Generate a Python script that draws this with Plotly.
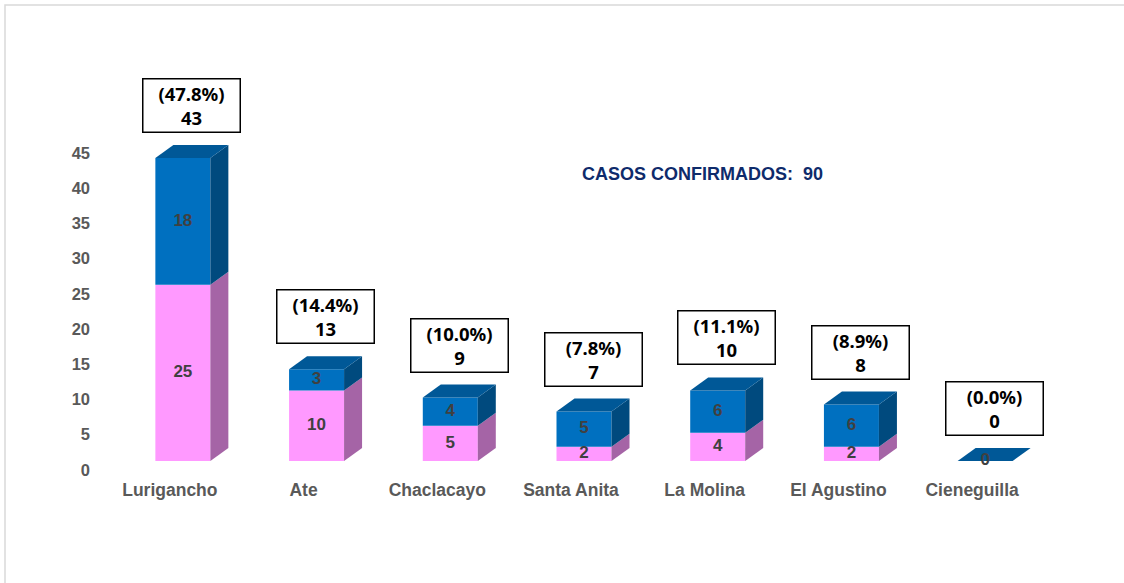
import plotly.graph_objects as go

# ---------------- data ----------------
districts = ["Lurigancho", "Ate", "Chaclacayo", "Santa Anita", "La Molina", "El Agustino", "Cieneguilla"]
pink_values = [25, 10, 5, 2, 4, 2, 0]
blue_values = [18, 3, 4, 5, 6, 6, 0]
total_confirmed = 90
y_ticks = [0, 5, 10, 15, 20, 25, 30, 35, 40, 45]

# ---------------- style / geometry ----------------
W, H = 1124, 583
ML, MR, MT, MB = 103, 85, 33, 106
XR = [-0.5, 6.5]
YR = [-1, 62]
PX_X = (W - ML - MR) / (XR[1] - XR[0])
PX_Y = (H - MT - MB) / (YR[1] - YR[0])

bar_shift = 13 / PX_X
bar_w = 55 / PX_X
depth_dx = 18 / PX_X
depth_dy = 13 / PX_Y
floor = 9 / PX_Y

PINK, PINK_SIDE = "#FF99FF", "#A564A6"
BLUE, BLUE_SIDE, BLUE_TOP = "#0070C0", "#004A7E", "#005897"
FONT = "Liberation Sans"

totals = [p + b for p, b in zip(pink_values, blue_values)]
idx = list(range(len(districts)))
xc = [i + bar_shift for i in idx]

fig = go.Figure()

# front faces (bars)
fig.add_trace(go.Bar(x=xc, y=pink_values, base=[floor] * len(idx), width=bar_w,
                     marker=dict(color=PINK, line=dict(width=0)), hoverinfo="skip"))
fig.add_trace(go.Bar(x=xc, y=blue_values, base=[floor + p for p in pink_values], width=bar_w,
                     marker=dict(color=BLUE, line=dict(width=0)), hoverinfo="skip"))


def poly(xs, ys, color):
    fig.add_trace(go.Scatter(x=xs + [xs[0]], y=ys + [ys[0]], mode="lines", fill="toself",
                             fillcolor=color, line=dict(width=0, color=color), hoverinfo="skip"))


for i in idx:
    xl = xc[i] - bar_w / 2
    xr = xc[i] + bar_w / 2
    b0 = floor
    b1 = floor + pink_values[i]
    b2 = b1 + blue_values[i]
    if pink_values[i] > 0:
        poly([xr, xr + depth_dx, xr + depth_dx, xr], [b0, b0 + depth_dy, b1 + depth_dy, b1], PINK_SIDE)
    if blue_values[i] > 0:
        poly([xr, xr + depth_dx, xr + depth_dx, xr], [b1, b1 + depth_dy, b2 + depth_dy, b2], BLUE_SIDE)
    poly([xl, xl + depth_dx, xr + depth_dx, xr], [b2, b2 + depth_dy, b2 + depth_dy, b2], BLUE_TOP)

# segment labels
lab_x, lab_y, lab_t = [], [], []
for i in idx:
    if pink_values[i] > 0:
        lab_x.append(xc[i]); lab_y.append(floor + pink_values[i] / 2); lab_t.append(str(pink_values[i]))
    if blue_values[i] > 0 or totals[i] == 0:
        lab_x.append(xc[i]); lab_y.append(floor + pink_values[i] + blue_values[i] / 2); lab_t.append(str(blue_values[i]))
fig.add_trace(go.Scatter(x=lab_x, y=lab_y, text=lab_t, mode="text",
                         textfont=dict(family=FONT, size=17, color="#404040", weight="bold"),
                         hoverinfo="skip"))

# total boxes
for i in idx:
    pct = 100 * totals[i] / total_confirmed
    fig.add_annotation(x=xc[i] + depth_dx / 2, y=floor + totals[i] + depth_dy,
                       xref="x", yref="y", yanchor="bottom", xanchor="center", yshift=12,
                       text=f"({pct:.1f}%)<br>{totals[i]}", showarrow=False,
                       font=dict(family="Noto Sans", size=18.5, color="#000000", weight="bold"),
                       bgcolor="#FFFFFF", bordercolor="#000000", borderwidth=1.5,
                       borderpad=2, width=92, height=48)

# chart heading
fig.add_annotation(x=(702 - ML) / (W - ML - MR), y=(H - MB - 174) / (H - MT - MB),
                   xref="paper", yref="paper", xanchor="center", yanchor="middle",
                   text="CASOS CONFIRMADOS:  90", showarrow=False,
                   font=dict(family=FONT, size=18, color="#0E2B6B", weight="bold"))

# outer border (left & top visible)
pw, ph = W - ML - MR, H - MT - MB
fig.add_shape(type="rect", xref="paper", yref="paper",
              x0=(5 - ML) / pw, x1=(W + 20 - ML) / pw,
              y0=(H - MB - (H + 20)) / ph, y1=(H - MB - 5) / ph,
              line=dict(color="#D9D9D9", width=1.5), fillcolor="rgba(0,0,0,0)", layer="below")

fig.update_layout(
    width=W, height=H, autosize=False,
    margin=dict(l=ML, r=MR, t=MT, b=MB),
    paper_bgcolor="#FFFFFF", plot_bgcolor="#FFFFFF",
    showlegend=False, barmode="overlay",
    xaxis=dict(range=XR, tickvals=idx, ticktext=districts, showgrid=False, zeroline=False,
               showline=False, ticks="",
               tickfont=dict(family=FONT, size=17.5, color="#595959", weight="bold")),
    yaxis=dict(range=YR, tickvals=y_ticks, showgrid=False, zeroline=False, showline=False,
               ticks="", ticklabelstandoff=12,
               tickfont=dict(family=FONT, size=16.5, color="#595959", weight="bold")),
)

fig.write_html("out.html", config={"displayModeBar": False},
               post_script="document.body.style.margin='0';")
